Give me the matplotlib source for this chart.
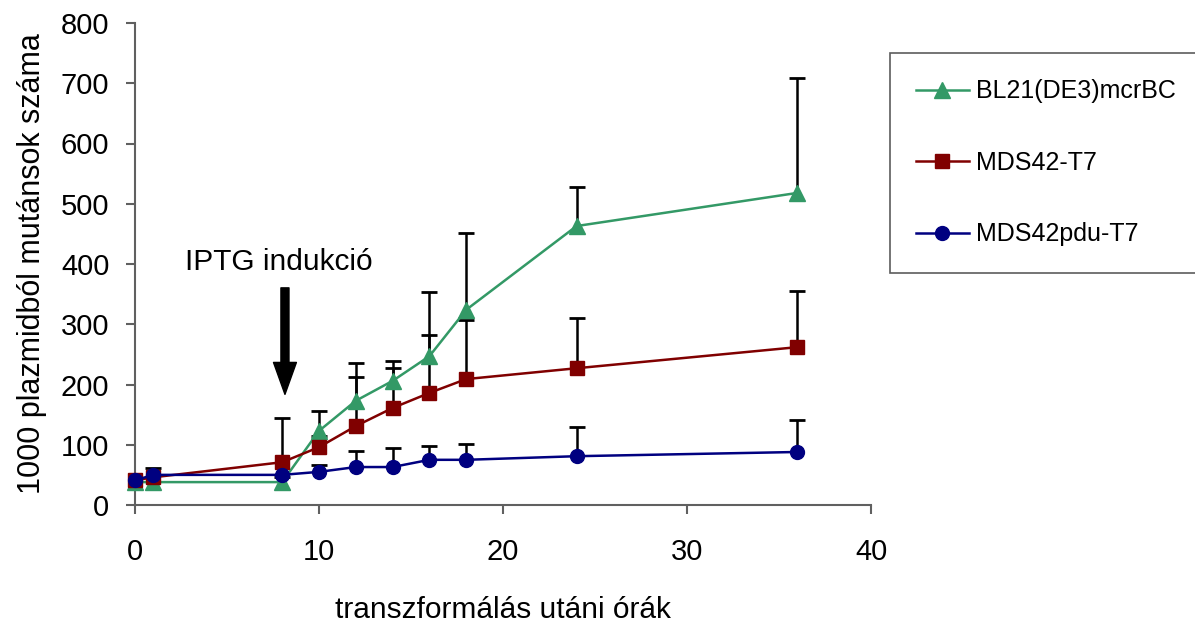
import matplotlib
matplotlib.use("Agg")
import matplotlib.pyplot as plt
from matplotlib.patches import FancyArrowPatch

plt.rcParams['font.family'] = ['Liberation Sans', 'DejaVu Sans']

hours = [0, 1, 8, 10, 12, 14, 16, 18, 24, 36]
bl21 = [38, 38, 38, 123, 173, 206, 247, 324, 463, 518]
bl21_err = [0, 0, 8, 33, 63, 33, 107, 127, 65, 191]
mds42 = [41, 46, 71, 96, 131, 161, 186, 209, 227, 262]
mds42_err = [0, 0, 73, 18, 81, 66, 96, 98, 83, 93]
mdspdu = [41, 50, 50, 55, 63, 63, 75, 75, 81, 88]
mdspdu_err = [0, 11, 0, 11, 27, 32, 23, 26, 49, 53]

labels = ["BL21(DE3)mcrBC", "MDS42-T7", "MDS42pdu-T7"]
colors = ["#339966", "#800000", "#000080"]
markers = ["^", "s", "o"]
msizes = [11, 9.5, 10]

fig = plt.figure(figsize=(11.95, 6.26), dpi=100)
ax = fig.add_axes([135/1195, 1-505/626, (871-135)/1195, (505-23)/626])

series = [(bl21, bl21_err), (mds42, mds42_err), (mdspdu, mdspdu_err)]
handles = []
for (vals, errs) in series:
    xs = [x for x, e in zip(hours, errs) if e > 0]
    lo = [v for v, e in zip(vals, errs) if e > 0]
    hi = [v + e for v, e in zip(vals, errs) if e > 0]
    ax.vlines(xs, lo, hi, colors='black', linewidth=1.8, zorder=2)
    ax.plot(xs, hi, linestyle='none', marker='_', markersize=11.5,
            markeredgewidth=2, color='black', zorder=2)
for (vals, errs), lab, c, m, ms in zip(series, labels, colors, markers, msizes):
    h, = ax.plot(hours, vals, color=c, marker=m, markersize=ms, linewidth=1.8,
                 label=lab, zorder=3, clip_on=False)
    handles.append(h)

ax.set_xlim(0, 40)
ax.set_ylim(0, 800)
ax.set_xticks([0, 10, 20, 30, 40])
ax.set_yticks(range(0, 801, 100))
for s in ['top', 'right']:
    ax.spines[s].set_visible(False)
for s in ['left', 'bottom']:
    ax.spines[s].set_color('#606060')
    ax.spines[s].set_linewidth(1.5)
ax.tick_params(axis='both', labelsize=21, length=6.5, width=1.5, color='#606060')
ax.tick_params(axis='x', pad=17)
ax.tick_params(axis='y', pad=12)
ax.set_xlabel("transzformálás utáni órák", fontsize=21.5, labelpad=22)
ax.set_ylabel("1000 plazmidból mutánsok száma", fontsize=22, labelpad=10)

ax.text(7.8, 404, "IPTG indukció", fontsize=21.5, ha='center', va='center')
arrow = FancyArrowPatch((8.15, 365), (8.15, 179),
                        arrowstyle='simple,head_length=23,head_width=16.5,tail_width=5.8',
                        mutation_scale=1, color='black', zorder=4)
ax.add_patch(arrow)

leg = fig.legend(handles=handles, labels=labels, loc='upper left',
                 bbox_to_anchor=(890/1195, 1-53/626), fontsize=18,
                 frameon=True, fancybox=False, edgecolor='#333333',
                 borderpad=1.05, labelspacing=1.9, handlelength=2.1,
                 handletextpad=0.3, borderaxespad=0)
leg.get_frame().set_linewidth(1.2)

fig.savefig("out.png", dpi=100)
